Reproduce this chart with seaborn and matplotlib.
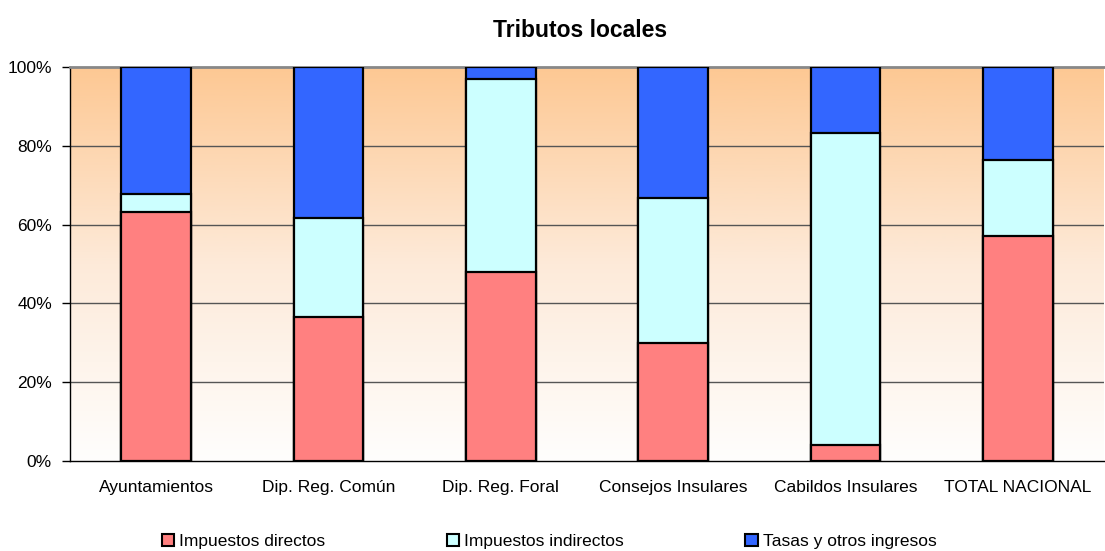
#!/usr/bin/env python3

import numpy as np
import pandas as pd
import matplotlib
matplotlib.use("Agg")
import matplotlib.pyplot as plt
from matplotlib.colors import LinearSegmentedColormap
from matplotlib.patches import Patch
from matplotlib.ticker import PercentFormatter, FixedLocator
import seaborn as sns


categories = ["Ayuntamientos", "Dip. Reg. Común", "Dip. Reg. Foral",
              "Consejos Insulares", "Cabildos Insulares", "TOTAL NACIONAL"]
directos = [63.2, 36.5, 48.0, 29.9, 4.1, 57.1]
indirectos = [4.6, 25.2, 49.0, 36.9, 79.1, 19.3]
tasas = [32.2, 38.3, 3.0, 33.2, 16.8, 23.6]
series_names = ["Impuestos directos", "Impuestos indirectos", "Tasas y otros ingresos"]
series_colors = ["#FF8080", "#CCFFFF", "#3366FF"]

sns.set_style("white")
plt.rcParams["font.family"] = ["Liberation Sans Narrow", "Liberation Sans", "DejaVu Sans"]
plt.rcParams["text.color"] = "black"
plt.rcParams["xtick.color"] = "black"
plt.rcParams["ytick.color"] = "black"

data = pd.DataFrame({"Categoria": categories, "Directos": directos,
                     "Indirectos": indirectos, "Tasas": tasas})
data["Cum1"] = data["Directos"]
data["Cum2"] = data["Directos"] + data["Indirectos"]
data["Cum3"] = data["Cum2"] + data["Tasas"]

fig = plt.figure(figsize=(11.05, 5.51), dpi=100)
ax = fig.add_axes([0.0633, 0.1633, 0.9357, 0.7151])

# gradient background: orange at the top, fading to white at the bottom
cmap = LinearSegmentedColormap.from_list("bg", ["#FFFEFD", "#FDEAD9", "#FDC893"])
gradient = np.linspace(0, 1, 256).reshape(-1, 1)
ax.imshow(gradient, cmap=cmap, aspect="auto", origin="lower",
          extent=[-0.5, 5.5, 0, 100], zorder=0)

for col, color in zip(["Cum3", "Cum2", "Cum1"], series_colors[::-1]):
    sns.barplot(data=data, x="Categoria", y=col, color=color, width=0.405,
                edgecolor="black", linewidth=1.6, saturation=1, ax=ax, zorder=3)

ax.set_xlim(-0.5, 5.5)
ax.set_ylim(0, 100)
ax.set_yticks([0, 20, 40, 60, 80, 100])
ax.yaxis.set_major_formatter(PercentFormatter(decimals=0))
for y in [20, 40, 60, 80]:
    ax.axhline(y, color="#555555", linewidth=1.0, zorder=1)

ax.xaxis.set_minor_locator(FixedLocator(np.arange(-0.5, 6, 1)))
ax.tick_params(axis="x", which="major", length=0, pad=14, labelsize=12.5)
ax.tick_params(axis="x", which="minor", length=6, width=1, color="#555555", direction="out")
ax.tick_params(axis="y", length=6, width=1, direction="out", labelsize=12.5, pad=7, left=True)
ax.set_xlabel("")
ax.set_ylabel("")

ax.spines["right"].set_visible(False)
ax.spines["top"].set_color("#888888")
ax.spines["top"].set_linewidth(2)
ax.spines["left"].set_color("black")
ax.spines["bottom"].set_color("black")
for s in ["left", "bottom"]:
    ax.spines[s].set_linewidth(1)

fig.suptitle("Tributos locales", x=0.525, y=0.965, fontsize=16.5, fontweight="bold",
             color="black", family=["Liberation Sans", "DejaVu Sans"])

handles = [Patch(facecolor=c, edgecolor="black", linewidth=1.5) for c in series_colors]
fig.legend(handles, series_names, loc="center", bbox_to_anchor=(0.497, 0.018), ncol=3,
           frameon=False, fontsize=12.5, handlelength=0.7, handleheight=0.7,
           handletextpad=0.3, columnspacing=7.0)

plt.savefig("out.png", dpi=100)
plt.close()
